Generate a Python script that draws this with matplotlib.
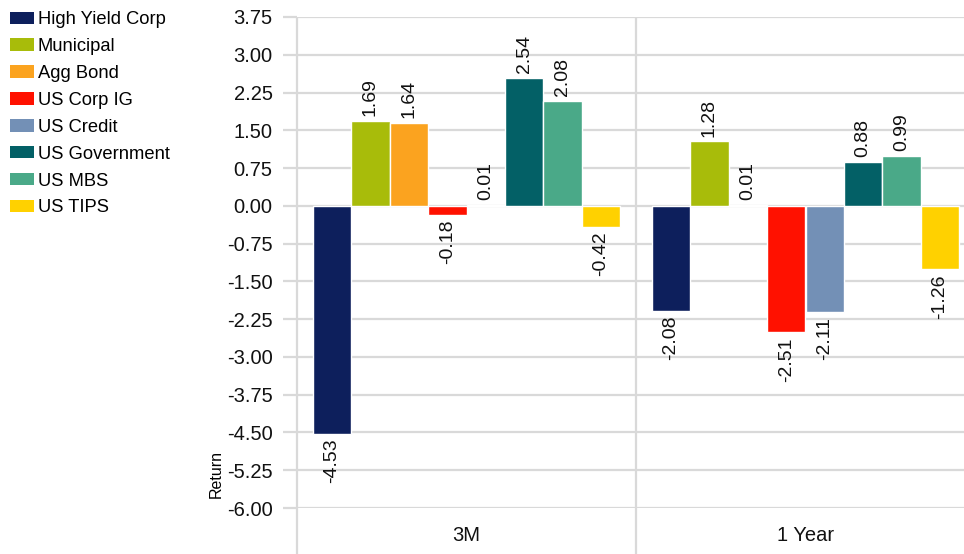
import numpy as np
import matplotlib.pyplot as plt
from matplotlib.patches import Patch

plt.rcParams['font.family'] = ['Liberation Sans', 'DejaVu Sans']

categories = ["3M", "1 Year"]
series = ["High Yield Corp", "Municipal", "Agg Bond", "US Corp IG",
          "US Credit", "US Government", "US MBS", "US TIPS"]
values_3m = [-4.53, 1.69, 1.64, -0.18, 0.01, 2.54, 2.08, -0.42]
values_1y = [-2.08, 1.28, 0.01, -2.51, -2.11, 0.88, 0.99, -1.26]
colors = ["#0D1F5C", "#A8BC0A", "#FBA31F", "#FF1100",
          "#7390B6", "#036066", "#4AA988", "#FFD100"]
y_ticks = np.arange(-6.0, 3.76, 0.75)

grid_col = "#D9D9D9"

fig = plt.figure(figsize=(9.64, 5.54), dpi=100)
ax = fig.add_axes([297/964, 1 - 508/554, 678/964, 491/554])

data = np.array([values_3m, values_1y])
n = len(series)
bw = 0.1133
for i in range(n):
    xs = np.arange(len(categories)) + 0.5 + (i - (n - 1) / 2) * bw
    vals = data[:, i]
    ax.bar(xs, vals, width=bw, color=colors[i], edgecolor="white",
           linewidth=1, zorder=3)
    for x, v in zip(xs, vals):
        off = 3.5 if v >= 0 else -3.5
        ax.annotate(f"{v:.2f}", (x, v), xytext=(0, off), textcoords="offset points",
                    rotation=90, ha="center", va="bottom" if v >= 0 else "top",
                    fontsize=14, color="#111111", zorder=4)

ax.set_xlim(0, 2)
ax.set_ylim(-6.0, 3.75)
ax.set_yticks(y_ticks)
ax.set_yticklabels([f"{t:.2f}" for t in y_ticks], fontsize=14.5, color="#111111")
ax.yaxis.grid(True, color=grid_col, linewidth=1.6, zorder=0)
ax.tick_params(axis="y", length=10, width=1.6, color=grid_col, pad=7.5)
ax.set_xticks([])
for s in ax.spines.values():
    s.set_visible(False)

# category separators with long ticks below the plot
ax.vlines([0, 1, 2], -0.1, 1, transform=ax.get_xaxis_transform(),
          color=grid_col, linewidth=1.6, clip_on=False, zorder=1)
for i, c in enumerate(categories):
    ax.text(i + 0.5, -0.055, c, transform=ax.get_xaxis_transform(),
            ha="center", va="center", fontsize=14.5, color="#111111")

fig.text(216/964, 1 - 474/554, "Return", rotation=90, ha="center",
         va="center", fontsize=11.5)

handles = [Patch(facecolor=c, edgecolor="none") for c in colors]
fig.legend(handles, series, loc="upper left", bbox_to_anchor=(-0.003, 1.003),
           frameon=False, fontsize=13.2, handlelength=1.3, handleheight=0.67,
           handletextpad=0.22, labelspacing=0.54, borderaxespad=0.3)

fig.savefig("out.png", dpi=100)
